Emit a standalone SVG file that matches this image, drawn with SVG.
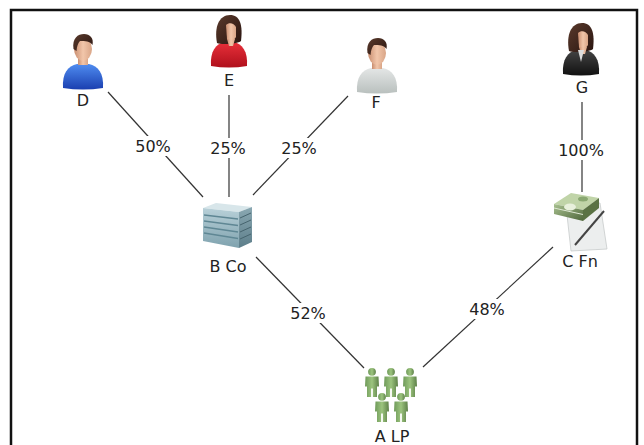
<svg xmlns="http://www.w3.org/2000/svg" width="644" height="445" viewBox="0 0 644 445">
<style>
.lbl{font-family:"DejaVu Sans","Liberation Sans",sans-serif;font-size:16px;fill:#222;text-anchor:middle}
.edge{stroke:#333;stroke-width:1.2;fill:none}
.bg{fill:#fff}
.skin{fill:url(#skin)}
</style>
<defs>
<linearGradient id="skin" x1="0" y1="0" x2="1" y2="0"><stop offset="0" stop-color="#c98e70"/><stop offset="0.5" stop-color="#f2c6aa"/><stop offset="1" stop-color="#d9a587"/></linearGradient>
<linearGradient id="blue" x1="0" y1="0" x2="0" y2="1"><stop offset="0" stop-color="#4f8cf0"/><stop offset="1" stop-color="#1a3fb0"/></linearGradient>
<linearGradient id="red" x1="0" y1="0" x2="0" y2="1"><stop offset="0" stop-color="#e8303a"/><stop offset="1" stop-color="#b0101c"/></linearGradient>
<linearGradient id="gray" x1="0" y1="0" x2="0" y2="1"><stop offset="0" stop-color="#e4e6e6"/><stop offset="1" stop-color="#b9c0be"/></linearGradient>
<linearGradient id="black" x1="0" y1="0" x2="0" y2="1"><stop offset="0" stop-color="#444"/><stop offset="1" stop-color="#111"/></linearGradient>
<linearGradient id="hair" x1="0" y1="0" x2="1" y2="1"><stop offset="0" stop-color="#5a3a2c"/><stop offset="1" stop-color="#2a1510"/></linearGradient>
<linearGradient id="green" x1="0" y1="0" x2="1" y2="0"><stop offset="0" stop-color="#6f9a5a"/><stop offset="0.5" stop-color="#9cc47e"/><stop offset="1" stop-color="#5d8048"/></linearGradient>
<linearGradient id="bfront" x1="0" y1="0" x2="0" y2="1"><stop offset="0" stop-color="#b8d0d8"/><stop offset="1" stop-color="#7fa2ae"/></linearGradient>
<linearGradient id="bside" x1="0" y1="0" x2="0" y2="1"><stop offset="0" stop-color="#8aa8b2"/><stop offset="1" stop-color="#5d7e8a"/></linearGradient>
<linearGradient id="money" x1="0" y1="0" x2="1" y2="1"><stop offset="0" stop-color="#a8c090"/><stop offset="1" stop-color="#50683c"/></linearGradient>
<g id="male">
<path d="M-20,53 C-21,38 -15,31 -6,29 L6,29 C15,31 21,38 20,53 Q0,56 -20,53 Z"/>
<rect x="-5" y="21" width="10" height="9" class="skin"/>
<ellipse cx="0" cy="14" rx="9" ry="11.5" class="skin"/>
<path d="M-9.5,14 C-11,3 -5,-1 1,-1 C7,-1 11,3 9.5,10 C7,6 2,6 -3,6 C-5,8 -6,11 -6.5,16 Z" fill="url(#hair)"/>
</g>
<g id="female">
<path d="M-18,51 C-19,36 -13,29 -5,27 L5,27 C13,29 19,36 18,51 Q0,54 -18,51 Z"/>
<path d="M-12,28 C-15,12 -10,0 1,0 C11,0 14,10 12,26 C9,29 -8,30 -12,28 Z" fill="url(#hair)"/>
<path d="M-3,10 C0,7 5,8 7,12 L7,22 C5,26 1,27 -2,24 Z" class="skin"/>
<path d="M-2,24 L6,24 L4,31 L0,31 Z" class="skin"/>
</g>
<g id="person">
<circle cx="0" cy="3.8" r="3.9" fill="url(#green)"/>
<path d="M-6.5,8.5 L6.5,8.5 L7,18.5 L5,18.5 L5,29 L0.9,29 L0.9,20.5 L-0.9,20.5 L-0.9,29 L-5,29 L-5,18.5 L-7,18.5 Z" fill="url(#green)"/>
</g>
</defs>
<rect x="11" y="10" width="626" height="460" fill="#fff" stroke="#111" stroke-width="2.5"/>
<g id="connectors">
<line class="edge" x1="108" y1="92" x2="203" y2="197"/>
<line class="edge" x1="229" y1="95" x2="229" y2="197"/>
<line class="edge" x1="348" y1="96" x2="253" y2="195"/>
<line class="edge" x1="582" y1="102" x2="582" y2="192"/>
<line class="edge" x1="256" y1="257" x2="364" y2="368"/>
<line class="edge" x1="553" y1="247" x2="423" y2="367"/>
<rect class="bg" x="133" y="136" width="40" height="20"/>
<text class="lbl" x="153" y="152">50%</text>
<rect class="bg" x="208" y="138" width="40" height="20"/>
<text class="lbl" x="228" y="154">25%</text>
<rect class="bg" x="279" y="138" width="40" height="20"/>
<text class="lbl" x="299" y="154">25%</text>
<rect class="bg" x="556" y="140" width="50" height="20"/>
<text class="lbl" x="581" y="156">100%</text>
<rect class="bg" x="288" y="303" width="40" height="20"/>
<text class="lbl" x="308" y="319">52%</text>
<rect class="bg" x="467" y="299" width="40" height="20"/>
<text class="lbl" x="487" y="315">48%</text>
</g>
<g id="node-D">
<use href="#male" transform="translate(83,35)" fill="url(#blue)"/>
<text class="lbl" x="83" y="106">D</text>
</g>
<g id="node-E">
<use href="#female" transform="translate(229,15)" fill="url(#red)"/>
<text class="lbl" x="229" y="86">E</text>
</g>
<g id="node-F">
<use href="#male" transform="translate(377,39)" fill="url(#gray)"/>
<text class="lbl" x="376" y="108">F</text>
</g>
<g id="node-G">
<use href="#female" transform="translate(581,23)" fill="url(#black)"/>
<path d="M578,50 L581,62 L584,50 Z" fill="#ddd"/>
<text class="lbl" x="582" y="93">G</text>
</g>
<g id="node-B">
<polygon points="203,208 216,203 252,207 239,212" fill="#d8e6ea"/>
<polygon points="203,208 239,212 239,248 203,241" fill="url(#bfront)"/>
<polygon points="239,212 252,207 252,242 239,248" fill="url(#bside)"/>
<g stroke="#5f8794" stroke-width="1.3">
<line x1="204" y1="215" x2="238" y2="219"/>
<line x1="204" y1="221" x2="238" y2="225.5"/>
<line x1="204" y1="227" x2="238" y2="232"/>
<line x1="204" y1="233" x2="238" y2="238.5"/>
</g>
<g stroke="#46646e" stroke-width="1">
<line x1="240" y1="218" x2="251" y2="213"/>
<line x1="240" y1="225" x2="251" y2="220"/>
<line x1="240" y1="232" x2="251" y2="227"/>
<line x1="240" y1="239" x2="251" y2="234"/>
</g>
<text class="lbl" x="228" y="272">B Co</text>
</g>
<g id="node-C">
<polygon points="566,206 600,203 607,249 571,251" fill="#eceeee" stroke="#c8cccc" stroke-width="0.8"/>
<line x1="575" y1="245" x2="604" y2="211" stroke="#444" stroke-width="2"/>
<polygon points="554,204 571,193 599,198 583,210" fill="#c0d4a8"/>
<polygon points="554,204 583,210 583,221 554,214" fill="url(#money)"/>
<polygon points="583,210 599,198 599,208 583,221" fill="#5a7244"/>
<line x1="554" y1="208" x2="583" y2="214.5" stroke="#dfe8d4" stroke-width="1"/>
<ellipse cx="570" cy="207" rx="6" ry="3.5" fill="#e8f0dc"/>
<ellipse cx="583" cy="199" rx="5" ry="2.5" fill="#8aa872"/>
<text class="lbl" x="580" y="267">C Fn</text>
</g>
<g id="node-A">
<use href="#person" transform="translate(372,368)"/>
<use href="#person" transform="translate(391,368)"/>
<use href="#person" transform="translate(410,368)"/>
<use href="#person" transform="translate(382,393)"/>
<use href="#person" transform="translate(401,393)"/>
<text class="lbl" x="392" y="442">A LP</text>
</g>
</svg>
